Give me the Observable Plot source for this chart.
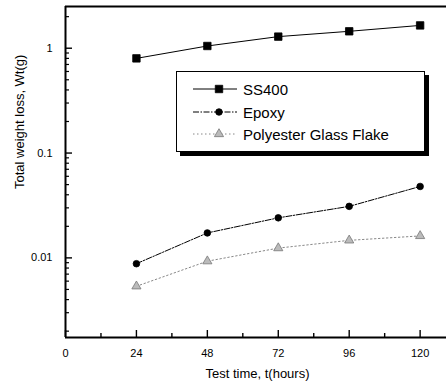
<!DOCTYPE html>
<html>
<head>
<meta charset="utf-8">
<script src="https://cdn.jsdelivr.net/npm/d3@7"></script>
<script src="https://cdn.jsdelivr.net/npm/@observablehq/plot@0.6"></script>
<style>
  html, body { margin: 0; padding: 0; background: white; overflow: hidden; }
  #chart { position: relative; width: 446px; height: 390px; overflow: hidden; font-family: "Liberation Sans", Arial, sans-serif; }
  #legend { position: absolute; left: 176px; top: 71px; width: 249px; height: 81px; border: 1px solid black;
            box-shadow: 4px 4px 0 black; background: white; box-sizing: border-box; }
  .entry { position: absolute; left: 0; height: 20px; display: flex; align-items: center; }
  .entry svg { margin-left: 16px; }
  .entry span { font-size: 15px; margin-left: 4px; color: black; }
</style>
</head>
<body>
<div id="chart"></div>
<script>
const hours = [24, 48, 72, 96, 120];
const ss400 = [0.80, 1.05, 1.29, 1.45, 1.65];
const epoxy = [0.0088, 0.0173, 0.0241, 0.031, 0.048];
const polyester = [0.00536, 0.0093, 0.0124, 0.0147, 0.0162];
const seriesNames = ["SS400", "Epoxy", "Polyester Glass Flake"];
const xTicks = [0, 24, 48, 72, 96, 120];
const xMinorTicks = [12, 36, 60, 84, 108];
const yTicks = [0.01, 0.1, 1];
const yTickLabels = ["0.01", "0.1", "1"];
const yMinorTicks = [0.002, 0.003, 0.004, 0.005, 0.006, 0.007, 0.008, 0.009,
                     0.02, 0.03, 0.04, 0.05, 0.06, 0.07, 0.08, 0.09,
                     0.2, 0.3, 0.4, 0.5, 0.6, 0.7, 0.8, 0.9, 2];
const xTitle = "Test time, t(hours)";
const yTitle = "Total weight loss, Wt(g)";

const table = hours.map((h, i) => ({hour: h, ss400: ss400[i], epoxy: epoxy[i], polyester: polyester[i]}));
// the frame runs past the right edge of the picture (cropped)
const xDomain = [0, 134];
const yDomain = [0.00174, 2.5];

const styles = [
  {key: "ss400", stroke: "black", dash: null, symbol: "square", fill: "black", mstroke: "black", r: 4.2},
  {key: "epoxy", stroke: "black", dash: "6,1.5,1.5,1.5", symbol: "circle", fill: "black", mstroke: "black", r: 3.3},
  {key: "polyester", stroke: "#888", dash: "1.5,2.5", symbol: "triangle", fill: "#bbb", mstroke: "#777", r: 3.4}
];

const marks = [];
styles.forEach(s => {
  marks.push(Plot.line(table, {x: "hour", y: s.key, stroke: s.stroke, strokeWidth: 1, strokeDasharray: s.dash}));
  marks.push(Plot.dot(table, {x: "hour", y: s.key, symbol: s.symbol, fill: s.fill, stroke: s.mstroke, strokeWidth: 0.8, r: s.r}));
});

const chart = Plot.plot({
  width: 461, height: 390,
  marginLeft: 65, marginRight: 0, marginTop: 6, marginBottom: 53,
  x: {domain: xDomain, label: null},
  y: {type: "log", domain: yDomain, label: null},
  style: {fontFamily: "'Liberation Sans', Arial, sans-serif", fontSize: "11px", color: "black", background: "white", display: "block", maxWidth: "none"},
  marks: [
    Plot.ruleY([yDomain[1]], {stroke: "black", strokeWidth: 2}),
    Plot.ruleY([yDomain[0]], {stroke: "black", strokeWidth: 2}),
    Plot.ruleX([xDomain[0]], {stroke: "black", strokeWidth: 2}),
    Plot.axisX(xTicks, {tickSize: -7, stroke: "black", strokeWidth: 1.4, tickFormat: () => "", label: null}),
    Plot.axisX(xMinorTicks, {tickSize: -4, stroke: "black", strokeWidth: 1.4, tickFormat: () => "", label: null}),
    Plot.axisX(xTicks, {tickSize: 0, tickPadding: 12, fontSize: 11, label: null}),
    Plot.axisY(yTicks, {tickSize: -7, stroke: "black", strokeWidth: 1.4, tickFormat: () => "", label: null}),
    Plot.axisY(yMinorTicks, {tickSize: -4, stroke: "black", strokeWidth: 1.2, tickFormat: () => "", label: null}),
    Plot.axisY(yTicks, {tickSize: 0, tickPadding: 13, fontSize: 11, label: null, tickFormat: d => yTickLabels[yTicks.indexOf(d)]}),
    ...marks,
    Plot.text([xTitle], {frameAnchor: "bottom", dy: 40, dx: -6, fontSize: 13}),
    Plot.text([yTitle], {frameAnchor: "left", dx: -46, dy: 17, rotate: -90, fontSize: 13})
  ]
});
const container = document.getElementById("chart");
container.appendChild(chart);

// legend
const legend = document.createElement("div");
legend.id = "legend";
const tops = [7, 30, 52];
styles.forEach((s, i) => {
  const entry = document.createElement("div");
  entry.className = "entry";
  entry.style.top = tops[i] + "px";
  const svg = d3.create("svg").attr("width", 46).attr("height", 20);
  svg.append("line").attr("x1", 0).attr("x2", 44).attr("y1", 10).attr("y2", 10)
    .attr("stroke", s.stroke).attr("stroke-width", 1).attr("stroke-dasharray", s.dash);
  const sym = {square: d3.symbolSquare, circle: d3.symbolCircle, triangle: d3.symbolTriangle}[s.symbol];
  svg.append("path").attr("transform", "translate(26,10)")
    .attr("d", d3.symbol(sym, Math.PI * s.r * s.r)())
    .attr("fill", s.fill).attr("stroke", s.mstroke).attr("stroke-width", 0.8);
  entry.appendChild(svg.node());
  const span = document.createElement("span");
  span.textContent = seriesNames[i];
  entry.appendChild(span);
  legend.appendChild(entry);
});
container.appendChild(legend);
</script>
</body>
</html>
